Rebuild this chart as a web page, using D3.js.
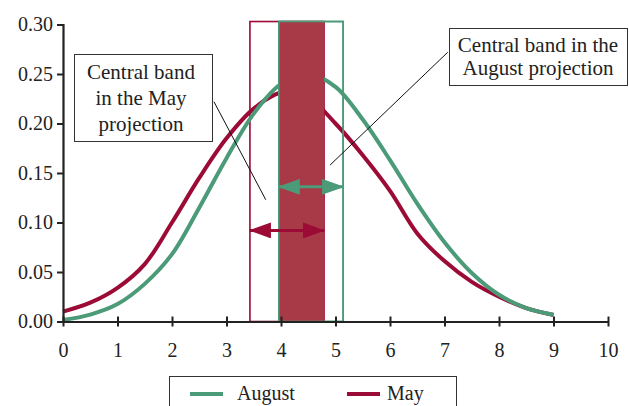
<!DOCTYPE html>
<html>
<head>
<meta charset="utf-8">
<script src="https://cdn.jsdelivr.net/npm/d3@7"></script>
<style>
  body { margin: 0; background: #fff; }
  svg text { font-family: "Liberation Serif", "Times New Roman", serif; fill: #222; }
</style>
</head>
<body>
<div id="chart"></div>
<script>
// data
var xs = [0, 0.5, 1, 1.5, 2, 2.5, 3, 3.5, 4, 4.5, 5, 5.5, 6, 6.5, 7, 7.5, 8, 8.5, 9];
var augustValues = [0.0015, 0.007, 0.0176, 0.038, 0.068, 0.115, 0.165, 0.21, 0.24, 0.25, 0.237, 0.204, 0.163, 0.119, 0.080, 0.049, 0.027, 0.0135, 0.0068];
var mayValues = [0.010, 0.019, 0.034, 0.058, 0.100, 0.145, 0.185, 0.215, 0.231, 0.226, 0.200, 0.168, 0.132, 0.089, 0.061, 0.040, 0.025, 0.0135, 0.0065];

var seriesNames = ["August", "May"];
var xTicks = [0, 1, 2, 3, 4, 5, 6, 7, 8, 9, 10];
var yTicks = [0, 0.05, 0.10, 0.15, 0.20, 0.25, 0.30];

// central bands (May, August)
var bandNames = ["May", "August"];
var bandLow = [3.43, 3.96];
var bandHigh = [4.79, 5.14];
var bandTop = 0.303;
var arrowLevel = [0.092, 0.136];

// callout lines [x1, y1, x2, y2] in data units
var mayCallout = [2.77, 0.222, 3.72, 0.123];
var augCallout = [7.06, 0.272, 4.90, 0.158];

var green = "#4b9a78", red = "#9c0a36", fillRed = "#a83a47";

var margin = { top: 24.5, right: 21, bottom: 84.5, left: 63 },
    width = 629 - margin.left - margin.right,
    height = 406 - margin.top - margin.bottom;

var svg = d3.select("#chart").append("svg")
    .attr("width", 629)
    .attr("height", 406);

var g = svg.append("g")
    .attr("transform", "translate(" + margin.left + "," + margin.top + ")");

var x = d3.scaleLinear().domain([0, 10]).range([0, width]);
var y = d3.scaleLinear().domain([0, 0.30]).range([height, 0]);

// arrow heads
var defs = svg.append("defs");
[["arrRed", red], ["arrGreen", green]].forEach(function (m) {
    defs.append("marker")
        .attr("id", m[0])
        .attr("viewBox", "0 0 22 16")
        .attr("refX", 21).attr("refY", 8)
        .attr("markerWidth", 22).attr("markerHeight", 16)
        .attr("markerUnits", "userSpaceOnUse")
        .attr("orient", "auto-start-reverse")
        .append("path")
        .attr("d", "M0,0 L22,8 L0,16 Z")
        .attr("fill", m[1]);
});

// band outlines
var bandColor = [red, green];
g.selectAll(".band")
    .data(bandNames)
    .enter().append("rect")
    .attr("class", "band")
    .attr("x", function (d, i) { return x(bandLow[i]); })
    .attr("y", y(bandTop))
    .attr("width", function (d, i) { return x(bandHigh[i]) - x(bandLow[i]); })
    .attr("height", y(0) - y(bandTop))
    .attr("fill", "none")
    .attr("stroke", function (d, i) { return bandColor[i]; })
    .attr("stroke-width", 1.6);

// curves
var line = d3.line()
    .x(function (d, i) { return x(xs[i]); })
    .y(function (d) { return y(d); })
    .curve(d3.curveCatmullRom.alpha(0.5));

g.append("path").datum(mayValues)
    .attr("d", line).attr("fill", "none")
    .attr("stroke", red).attr("stroke-width", 4);
g.append("path").datum(augustValues)
    .attr("d", line).attr("fill", "none")
    .attr("stroke", green).attr("stroke-width", 4);

// overlap of the two bands
var ovLo = d3.max(bandLow), ovHi = d3.min(bandHigh);
g.append("rect")
    .attr("x", x(ovLo))
    .attr("y", y(bandTop))
    .attr("width", x(ovHi) - x(ovLo))
    .attr("height", y(0) - y(bandTop))
    .attr("fill", fillRed);

// august outline again on top of the fill
g.append("rect")
    .attr("x", x(bandLow[1]))
    .attr("y", y(bandTop))
    .attr("width", x(bandHigh[1]) - x(bandLow[1]))
    .attr("height", y(0) - y(bandTop))
    .attr("fill", "none")
    .attr("stroke", green)
    .attr("stroke-width", 1.6);

// double arrows
g.selectAll(".arrow")
    .data(bandNames)
    .enter().append("line")
    .attr("class", "arrow")
    .attr("x1", function (d, i) { return x(bandLow[i]); })
    .attr("x2", function (d, i) { return x(bandHigh[i]); })
    .attr("y1", function (d, i) { return y(arrowLevel[i]); })
    .attr("y2", function (d, i) { return y(arrowLevel[i]); })
    .attr("stroke", function (d, i) { return bandColor[i]; })
    .attr("stroke-width", 3)
    .attr("marker-start", function (d, i) { return i == 0 ? "url(#arrRed)" : "url(#arrGreen)"; })
    .attr("marker-end", function (d, i) { return i == 0 ? "url(#arrRed)" : "url(#arrGreen)"; });

// callout lines
[mayCallout, augCallout].forEach(function (c) {
    g.append("line")
        .attr("x1", x(c[0])).attr("y1", y(c[1]))
        .attr("x2", x(c[2])).attr("y2", y(c[3]))
        .attr("stroke", "#111").attr("stroke-width", 1);
});

// axes
var xAxis = g.append("g")
    .attr("transform", "translate(0," + height + ")")
    .call(d3.axisBottom(x).tickValues(xTicks).tickSize(0).tickPadding(21).tickFormat(d3.format("d")));
xAxis.selectAll(".tick").append("line")
    .attr("y1", -5).attr("y2", 5)
    .attr("stroke", "#222").attr("stroke-width", 2);

var yAxis = g.append("g")
    .call(d3.axisLeft(y).tickValues(yTicks).tickSize(6).tickPadding(4).tickFormat(d3.format(".2f")));

[xAxis, yAxis].forEach(function (a) {
    a.select(".domain").attr("stroke", "#222").attr("stroke-width", 2.2);
    a.selectAll(".tick line").attr("stroke", "#222").attr("stroke-width", 2);
    a.selectAll("text").style("font-size", "20px").attr("fill", "#222");
});

// text boxes
function textBox(bx, by, bw, bh, lines, cx, baseline, lh) {
    svg.append("rect")
        .attr("x", bx).attr("y", by).attr("width", bw).attr("height", bh)
        .attr("fill", "#fff").attr("stroke", "#333").attr("stroke-width", 1);
    var t = svg.append("text")
        .attr("text-anchor", "middle")
        .style("font-size", "21px");
    lines.forEach(function (l, i) {
        t.append("tspan").attr("x", cx).attr("y", baseline + i * lh).text(l);
    });
}
textBox(74.5, 54.5, 138, 87, ["Central band", "in the May", "projection"], 141, 79, 26);
textBox(449.5, 28.5, 178, 57, ["Central band in the", "August projection"], 538, 52, 23);

// legend
var legend = svg.append("g");
legend.append("rect")
    .attr("x", 169.5).attr("y", 376.5).attr("width", 287).attr("height", 40)
    .attr("fill", "#fff").attr("stroke", "#333").attr("stroke-width", 1);
var legX = [190, 347];
var legColor = [green, red];
seriesNames.forEach(function (s, i) {
    legend.append("line")
        .attr("x1", legX[i]).attr("x2", legX[i] + 33)
        .attr("y1", 394).attr("y2", 394)
        .attr("stroke", legColor[i]).attr("stroke-width", 4);
    legend.append("text")
        .attr("x", legX[i] + (i == 0 ? 47 : 40)).attr("y", 400)
        .style("font-size", "20px")
        .text(s);
});
</script>
</body>
</html>
